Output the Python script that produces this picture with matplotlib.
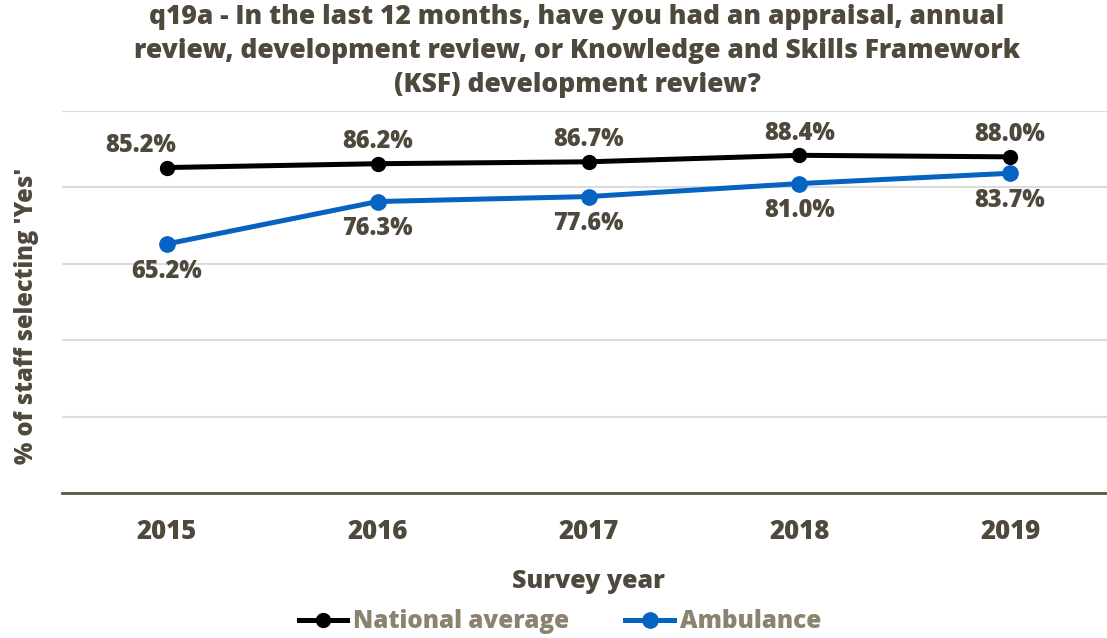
import matplotlib.pyplot as plt

years = ['2015', '2016', '2017', '2018', '2019']
national = [85.2, 86.2, 86.7, 88.4, 88.0]
ambulance = [65.2, 76.3, 77.6, 81.0, 83.7]

title = ("q19a - In the last 12 months, have you had an appraisal, annual\n"
         "review, development review, or Knowledge and Skills Framework\n"
         "(KSF) development review?")

text_col = '#4f483d'
legend_col = '#8c8270'
blue = '#0563c1'
wt = 800

plt.rcParams['font.family'] = ['Open Sans', 'DejaVu Sans']

fig = plt.figure(figsize=(11.07, 6.38), dpi=100)
ax = fig.add_axes([61.5 / 1107, 145 / 638, 1054 / 1107, 382 / 638])

x = list(range(len(years)))
ax.plot(x, national, color='black', lw=3.6, marker='o', ms=10, label='National average', zorder=3)
ax.plot(x, ambulance, color=blue, lw=3.6, marker='o', ms=11, label='Ambulance', zorder=3)

# data labels: national above, ambulance below
for i, v in enumerate(national):
    dx = -19 if i == 0 else 0
    ax.annotate(f'{v:.1f}%', (i, v), xytext=(dx, 16), textcoords='offset points',
                ha='center', va='center', fontsize=17, color=text_col, fontweight=wt)
for i, v in enumerate(ambulance):
    ax.annotate(f'{v:.1f}%', (i, v), xytext=(0, -19.5), textcoords='offset points',
                ha='center', va='center', fontsize=17, color=text_col, fontweight=wt)

ax.set_xlim(-0.5, len(years) - 0.5)
ax.set_ylim(0, 100)
ax.set_yticks([0, 20, 40, 60, 80, 100])
ax.set_yticklabels([])
ax.tick_params(axis='y', length=0)
ax.grid(axis='y', color='#dcdcdc', lw=1.5, zorder=0)

ax.set_xticks(x)
ax.set_xticklabels(years, fontsize=18.5, color=text_col, fontweight=wt)
ax.tick_params(axis='x', length=0, pad=19)

for s in ['top', 'right', 'left']:
    ax.spines[s].set_visible(False)
ax.spines['bottom'].set_color('#5e5649')
ax.spines['bottom'].set_linewidth(2)

ax.set_xlabel('Survey year', fontsize=18, color=text_col, fontweight=wt, labelpad=17)
fig.text(27 / 1107, 1 - 316 / 638, "% of staff selecting 'Yes'", rotation=90,
         ha='center', va='center', fontsize=17, color=text_col, fontweight=wt)

fig.text(577 / 1107, 1 - 51 / 638, title, ha='center', va='center', fontsize=19,
         color=text_col, fontweight=wt, linespacing=1.38)

leg = fig.legend(loc='center', bbox_to_anchor=(560 / 1107, 1 - 622 / 638), ncol=2,
                 frameon=False, fontsize=17.5, handlelength=2.0, handletextpad=0.25,
                 columnspacing=2.3)
for t in leg.get_texts():
    t.set_color(legend_col)
    t.set_fontweight(wt)

fig.savefig('out.png', dpi=100)
